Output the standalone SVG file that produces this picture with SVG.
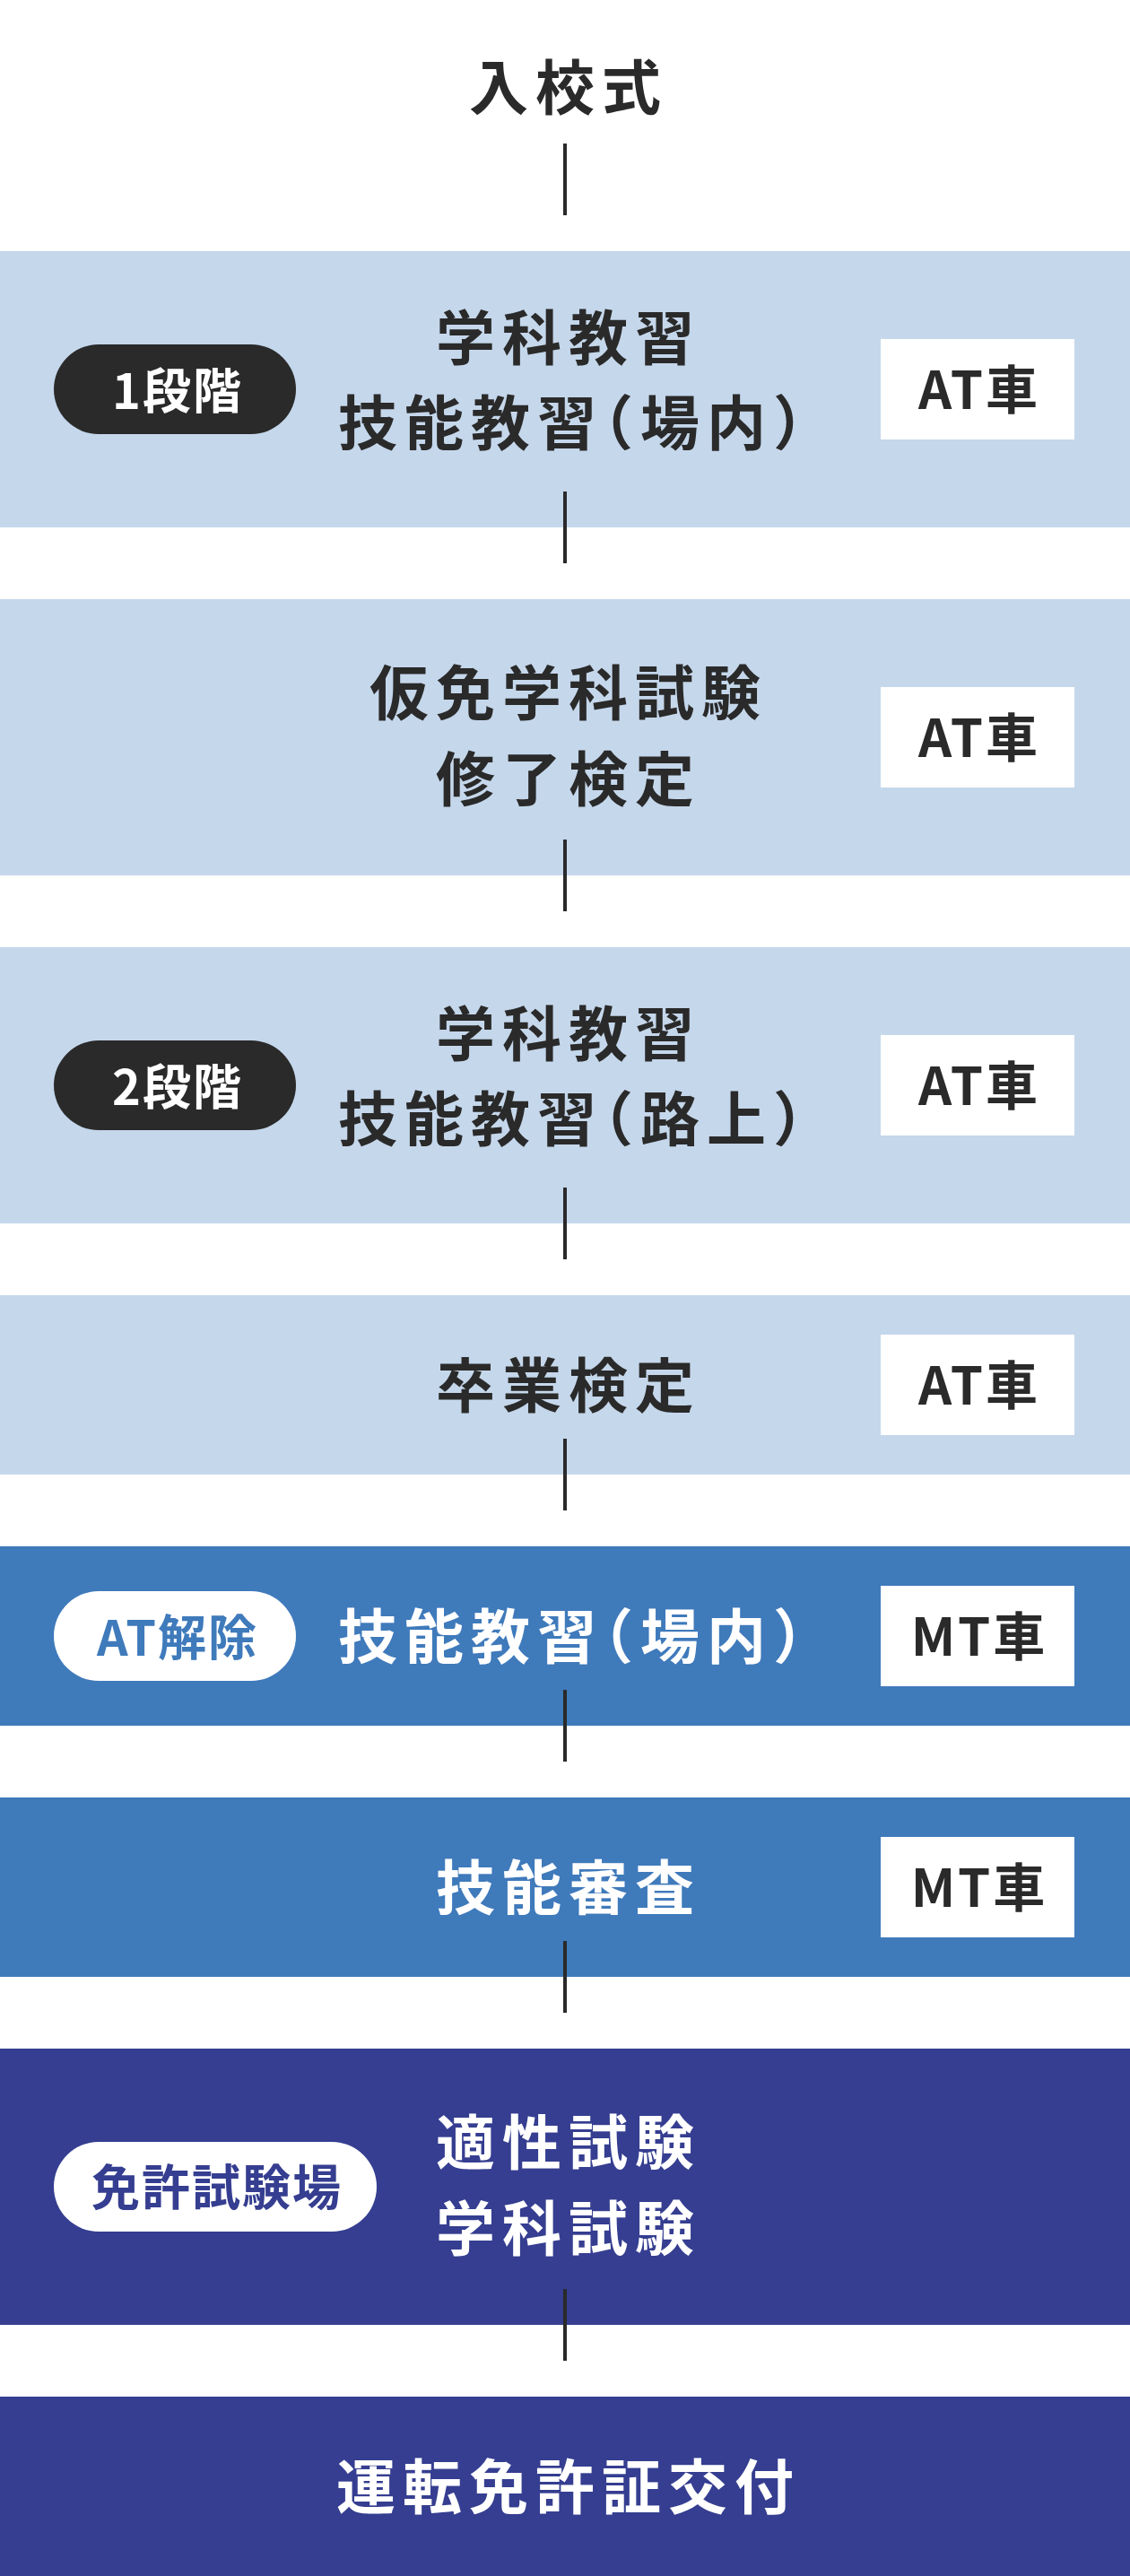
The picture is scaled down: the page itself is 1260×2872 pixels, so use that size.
<svg xmlns="http://www.w3.org/2000/svg" width="1260" height="2872" viewBox="0 0 1260 2872">
<style>
  text { font-family: "Noto Sans CJK JP", "Noto Sans", sans-serif; font-weight: 700; }
  .main { font-size: 66px; letter-spacing: 8px; text-anchor: middle; }
  .paren { font-feature-settings: "halt" 1; }
  .dark { fill: #2a2a2a; }
  .white { fill: #ffffff; }
  .pill { font-size: 54px; letter-spacing: 2px; text-anchor: middle; }
  .car { font-size: 58px; letter-spacing: 3px; text-anchor: middle; fill: #2a2a2a; }
  .b-light { fill: #c5d7eb; }
  .b-mid { fill: #3f7abb; }
  .b-navy { fill: #353e90; }
  .box { fill: #ffffff; }
  .conn { stroke: #2a2a2a; stroke-width: 4; fill: none; }
</style>
<rect x="0" y="0" width="1260" height="2872" fill="#ffffff"/>

<g id="node-nyukoushiki">
  <text class="main dark" x="634" y="122">入校式</text>
</g>

<g id="node-stage1">
  <rect class="b-light" x="0" y="280" width="1260" height="308"/>
  <rect x="60" y="384" width="270" height="100" rx="50" fill="#2a2a2a"/>
  <text class="pill white" x="198" y="456">1段階</text>
  <text class="main dark" x="634" y="401">学科教習</text>
  <text class="main dark paren" x="640" y="496">技能教習（場内）</text>
  <rect class="box" x="982" y="378" width="216" height="112"/>
  <text class="car" x="1092" y="456">AT車</text>
</g>

<g id="node-karimen">
  <rect class="b-light" x="0" y="668" width="1260" height="308"/>
  <text class="main dark" x="634" y="797">仮免学科試験</text>
  <text class="main dark" x="634" y="893">修了検定</text>
  <rect class="box" x="982" y="766" width="216" height="112"/>
  <text class="car" x="1092" y="844">AT車</text>
</g>

<g id="node-stage2">
  <rect class="b-light" x="0" y="1056" width="1260" height="308"/>
  <rect x="60" y="1160" width="270" height="100" rx="50" fill="#2a2a2a"/>
  <text class="pill white" x="198" y="1232">2段階</text>
  <text class="main dark" x="634" y="1177">学科教習</text>
  <text class="main dark paren" x="640" y="1272">技能教習（路上）</text>
  <rect class="box" x="982" y="1154" width="216" height="112"/>
  <text class="car" x="1092" y="1232">AT車</text>
</g>

<g id="node-sotsugyo">
  <rect class="b-light" x="0" y="1444" width="1260" height="200"/>
  <text class="main dark" x="634" y="1569">卒業検定</text>
  <rect class="box" x="982" y="1488" width="216" height="112"/>
  <text class="car" x="1092" y="1566">AT車</text>
</g>

<g id="node-atkaijo">
  <rect class="b-mid" x="0" y="1724" width="1260" height="200"/>
  <rect x="60" y="1774" width="270" height="100" rx="50" fill="#ffffff"/>
  <text class="pill" x="198" y="1846" fill="#3f7abb">AT解除</text>
  <text class="main white paren" x="640" y="1849">技能教習（場内）</text>
  <rect class="box" x="982" y="1768" width="216" height="112"/>
  <text class="car" x="1092" y="1846">MT車</text>
</g>

<g id="node-shinsa">
  <rect class="b-mid" x="0" y="2004" width="1260" height="200"/>
  <text class="main white" x="634" y="2129">技能審査</text>
  <rect class="box" x="982" y="2048" width="216" height="112"/>
  <text class="car" x="1092" y="2126">MT車</text>
</g>

<g id="node-shikenjo">
  <rect class="b-navy" x="0" y="2284" width="1260" height="308"/>
  <rect x="60" y="2388" width="360" height="100" rx="50" fill="#ffffff"/>
  <text class="pill" x="242" y="2459" fill="#353e90">免許試験場</text>
  <text class="main white" x="634" y="2413">適性試験</text>
  <text class="main white" x="634" y="2509">学科試験</text>
</g>

<g id="node-kofu">
  <rect class="b-navy" x="0" y="2672" width="1260" height="200"/>
  <text class="main white" x="634" y="2797">運転免許証交付</text>
</g>

<g id="connectors">
  <line class="conn" x1="630" y1="160" x2="630" y2="240"/>
  <line class="conn" x1="630" y1="548" x2="630" y2="628"/>
  <line class="conn" x1="630" y1="936" x2="630" y2="1016"/>
  <line class="conn" x1="630" y1="1324" x2="630" y2="1404"/>
  <line class="conn" x1="630" y1="1604" x2="630" y2="1684"/>
  <line class="conn" x1="630" y1="1884" x2="630" y2="1964"/>
  <line class="conn" x1="630" y1="2164" x2="630" y2="2244"/>
  <line class="conn" x1="630" y1="2552" x2="630" y2="2632"/>
</g>
</svg>
